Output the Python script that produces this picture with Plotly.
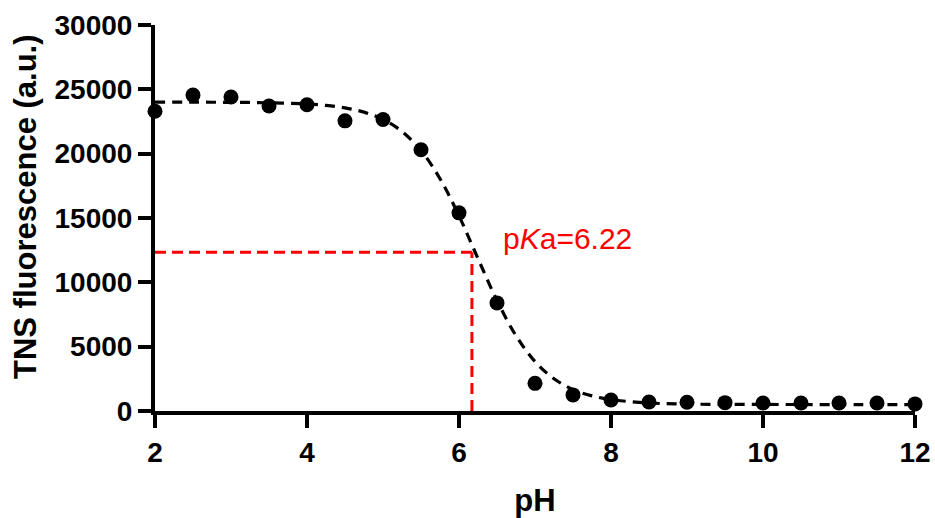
import plotly.graph_objects as go

# measured data
ph = [2, 2.5, 3, 3.5, 4, 4.5, 5, 5.5, 6, 6.5, 7, 7.5, 8, 8.5, 9, 9.5, 10, 10.5, 11, 11.5, 12]
fluor = [23300, 24550, 24400, 23700, 23800, 22550, 22650, 20300, 15400, 8400, 2150, 1250,
         850, 700, 680, 650, 620, 620, 620, 620, 550]

# fitted curve
fit_ph = [2, 2.5, 3, 3.5, 4, 4.25, 4.5, 4.75, 5, 5.25, 5.5, 5.75, 6, 6.25, 6.5, 6.75,
          7, 7.25, 7.5, 7.75, 8, 8.5, 9, 10, 11, 12]
fit_val = [24000, 24000, 23990, 23955, 23860, 23750, 23560, 23230, 22660, 21725, 20240,
           18055, 15165, 11845, 8590, 5855, 3845, 2505, 1670, 1175, 885, 623, 539, 509,
           501, 500]

pka_x = 6.17
half_y = 12330
pka_label = "p<i>K</i>a=6.22"

x_ticks = [2, 4, 6, 8, 10, 12]
y_ticks = [0, 5000, 10000, 15000, 20000, 25000, 30000]

FONT = "Liberation Sans, Arial, Helvetica, sans-serif"
RED = "#ff0000"

fig = go.Figure()
fig.add_trace(go.Scatter(x=[2, pka_x], y=[half_y, half_y], mode="lines",
                         line=dict(color=RED, width=3, dash="11px,6px"),
                         cliponaxis=False, hoverinfo="skip"))
fig.add_trace(go.Scatter(x=[pka_x, pka_x], y=[0, half_y], mode="lines",
                         line=dict(color=RED, width=3, dash="11px,6px"),
                         cliponaxis=False, hoverinfo="skip"))
fig.add_trace(go.Scatter(x=fit_ph, y=fit_val, mode="lines",
                         line=dict(color="black", width=3.2, dash="10px,7px", shape="spline"),
                         cliponaxis=False))
fig.add_trace(go.Scatter(x=ph, y=fluor, mode="markers",
                         marker=dict(color="black", size=15),
                         cliponaxis=False))

fig.add_annotation(x=6.55, y=13370, xref="x", yref="y", text=pka_label,
                   showarrow=False, xanchor="left", yanchor="middle",
                   font=dict(family=FONT, size=30, color=RED))

# y-axis title placed as rotated text
fig.add_annotation(x=0, y=0.5285, xref="paper", yref="paper", xshift=-129,
                   text="TNS fluorescence (a.u.)", textangle=-90, showarrow=False,
                   xanchor="center", yanchor="middle",
                   font=dict(family=FONT, size=31, color="black", weight="bold"))

axis_common = dict(showline=True, linewidth=4, linecolor="black", ticks="outside",
                   ticklen=13, tickwidth=4, tickcolor="black", showgrid=False,
                   zeroline=False, automargin=False,
                   tickfont=dict(family=FONT, size=28, color="black", weight="bold"))

fig.update_xaxes(range=[2, 12], tickvals=x_ticks, ticktext=[str(v) for v in x_ticks],
                 title=dict(text="pH", font=dict(family=FONT, size=31, color="black", weight="bold"),
                            standoff=28),
                 **axis_common)
fig.update_yaxes(range=[0, 30000], tickvals=y_ticks, ticktext=[str(v) for v in y_ticks],
                 **axis_common)

fig.update_layout(width=935, height=518, autosize=False, showlegend=False,
                  margin=dict(l=155, r=20, t=25, b=107),
                  plot_bgcolor="white", paper_bgcolor="white")

fig.write_html("out.html",
               config={"displayModeBar": False},
               post_script="document.body.style.margin='0';"
                           "document.body.style.overflow='hidden';")
